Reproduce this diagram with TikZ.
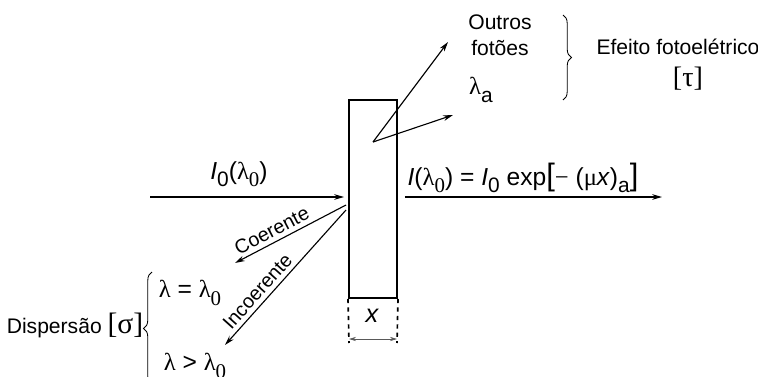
\documentclass[tikz,border=0pt]{standalone}
\usepackage{fontspec}
\usepackage{graphicx}
\setmainfont{Liberation Sans}
\newfontfamily\grk{Liberation Serif}
\usetikzlibrary{arrows.meta,decorations.pathreplacing}

\newcommand{\lam}{{\grk λ}}
\newcommand{\idx}[1]{\raisebox{-0.55ex}{\scalebox{0.85}{#1}}}

\begin{document}
\begin{tikzpicture}[
		x=0.025cm,
		y=0.025cm,
		every node/.style={font=\fontsize{15}{17}\selectfont, inner sep=0pt},
		ray/.style={line width=0.8pt, -{Stealth[length=7pt,width=4pt]}},
		big/.style={font=\fontsize{17.5}{19}\selectfont}
		]
		
		\useasboundingbox (0,0) rectangle (758,-376);
		
		% absorbing slab and its thickness
		\node[draw, line width=1.4pt, minimum width=48*0.025cm, minimum height=198*0.025cm]
		(slab) at (373,-199) {};
		\coordinate (lowL) at (349,-343);
		\coordinate (lowR) at (397,-343);
		\draw[line width=1.2pt, dashed] (slab.south west) -- (lowL);
		\draw[line width=1.2pt, dashed] (slab.south east) -- (lowR);
		\coordinate (dimL) at (349,-339);
		\coordinate (dimR) at (397,-339);
		\draw[gray!70!black, line width=0.5pt, {Stealth[length=5pt,width=3pt]}-{Stealth[length=5pt,width=3pt]}]
		(dimL) -- (dimR);
		\node[font=\fontsize{18}{20}\selectfont\itshape] (thick) at (372,-316) {x};
		
		% incident and transmitted beams
		\coordinate (src) at (150,-197);
		\coordinate (out) at (662,-197);
		\draw[ray] (src) -- ([xshift=-4*0.025cm]slab.west |- src);
		\draw[ray] ([xshift=7*0.025cm]slab.east |- out) -- (out);
		\node[big] (inlab) at (239,-174) {\textit{I}\idx{0}(\lam\idx{\grk 0})};
		\node[big] (outlab) at (523,-178)
		{\textit{I}(\lam\idx{\grk 0}) = \textit{I}\idx{0} exp{\fontsize{22}{22}\selectfont[}{\grk −} ({\grk μ}\textit{x})\idx{a}{\fontsize{22}{22}\selectfont]}};
		
		% photoelectric effect
		\coordinate (hit) at (373,-142);
		\coordinate (tipA) at (448,-42);
		\coordinate (tipB) at (453,-115);
		\draw[ray] (hit) -- (tipA);
		\draw[ray] (hit) -- (tipB);
		\node (outros) at (500,-22) {Outros};
		\node (fotoes) at (500,-48) {fotões};
		\node[big] (lama) at (481,-90) {\lam\idx{a}};
		\draw[line width=0.6pt, decorate, decoration={brace, amplitude=6pt}]
		(563,-15) -- (563,-100);
		\node (efeito) at (678,-47) {Efeito fotoelétrico};
		\node[font=\fontsize{20}{20}\selectfont] (tau) at (688,-79) {\grk [τ]};
		
		% scattering
		\coordinate (sc1) at (346,-205);
		\coordinate (sc2) at (346,-210);
		\coordinate (coh) at (235,-263);
		\coordinate (inc) at (225,-345);
		\draw[ray] (sc1) -- node[pos=0.62, sloped, above=3pt, font=\fontsize{14}{16}\selectfont] {Coerente} (coh);
		\draw[ray] (sc2) -- node[pos=0.66, sloped, above=3pt, font=\fontsize{14}{16}\selectfont] {Incoerente} (inc);
		\draw[line width=0.6pt, decorate, decoration={brace, amplitude=6pt}]
		(152,-385) -- (152,-272);
		\node[big] (eq) at (190,-293) {\lam{} = \lam\idx{\grk 0}};
		\node[big] (gt) at (195,-366) {\lam{} > \lam\idx{\grk 0}};
		\node (disp) at (75,-325) {Dispersão {\grk\fontsize{21}{21}\selectfont [σ]}};
		
	\end{tikzpicture}
\end{document}
